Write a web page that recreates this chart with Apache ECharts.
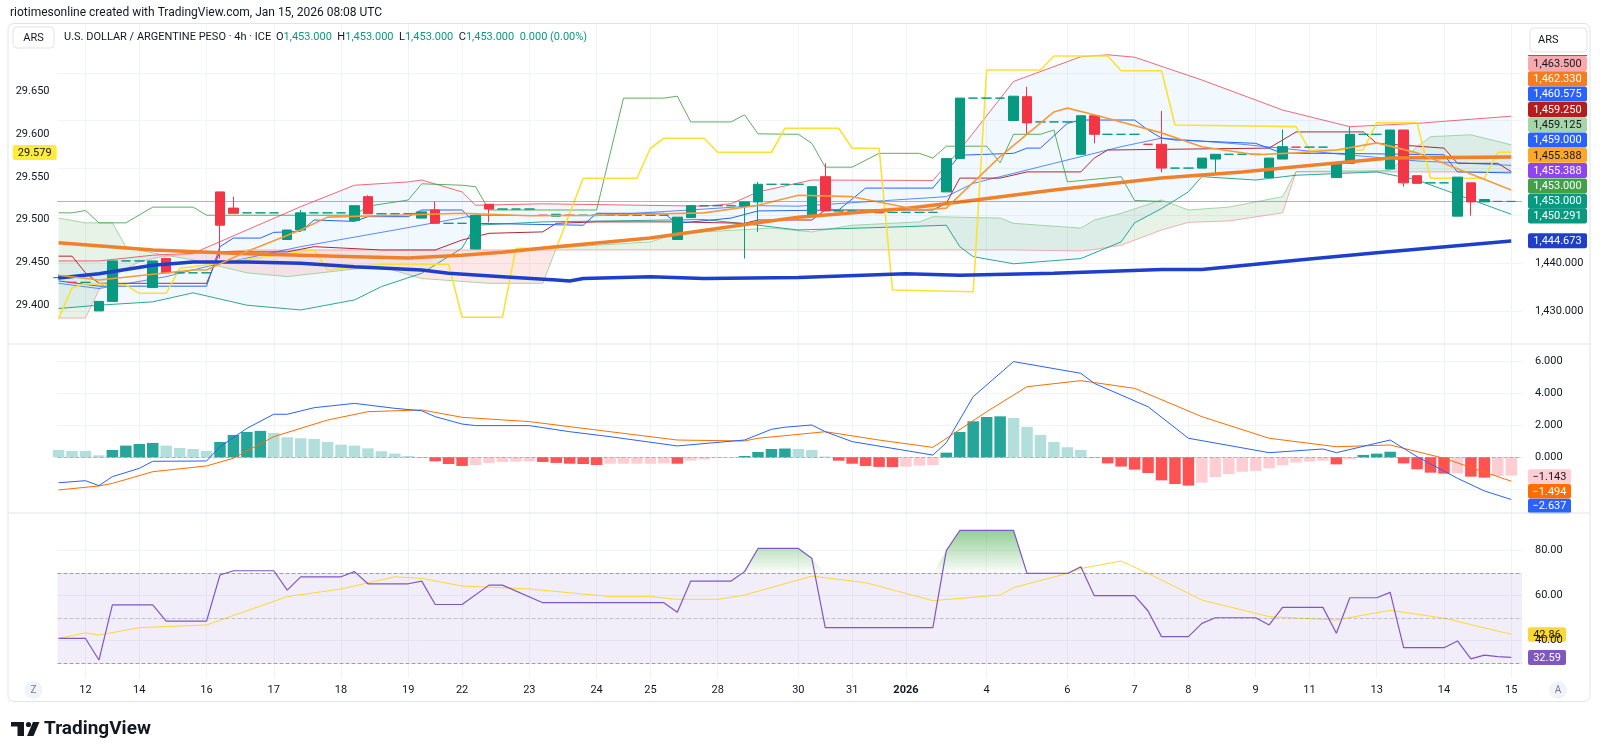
<!DOCTYPE html>
<html lang="en">
<head>
<meta charset="UTF-8">
<title>USD/ARS 4h</title>
<script src="https://cdn.jsdelivr.net/npm/echarts@6/dist/echarts.min.js"></script>
<style>
    html, body { margin: 0; padding: 0; background: #fff; }
    #main { width: 1600px; height: 756px; }
</style>
</head>
<body>
<div id="main"></div>
<script>
    var FONT = 'Roboto, "Liberation Sans", sans-serif';

    // time axis: bar index of each day label
    var xTickIdx = [2, 6, 11, 16, 21, 26, 30, 35, 40, 44, 49, 55, 59, 63, 69, 75, 80, 84, 89, 93, 98, 103, 108];
    var xTickLabels = ['12', '14', '16', '17', '18', '19', '22', '23', '24', '25', '28', '30', '31', '2026', '4', '6', '7', '8', '9', '11', '13', '14', '15'];

    // 4h candles, index 0..108
    var opens = [1437, 1436, 1436, 1430, 1432, 1440.5, 1440.5, 1434.9, 1441, 1438,
        1438, 1438, 1455, 1451.6, 1450.6, 1450.6, 1450.6, 1445, 1447, 1450.6,
        1450.6, 1450.6, 1449, 1454, 1450.4, 1450.4, 1450.4, 1449.5, 1451.2, 1448.4,
        1448.4, 1443, 1452.4, 1451.4, 1451.4, 1451.4, 1450.1, 1449.9, 1450.1, 1450.1,
        1450.1, 1450.1, 1450.1, 1450.1, 1450.1, 1450.1, 1445, 1449.6, 1452.1, 1452.1,
        1452.1, 1452, 1452.9, 1456.6, 1456.6, 1456.6, 1449.9, 1458.2, 1451, 1451,
        1451, 1451.2, 1450.7, 1450.7, 1450.7, 1450.7, 1455, 1462, 1474.7, 1474.7,
        1474.7, 1470, 1475, 1469.7, 1469.7, 1469.7, 1462.9, 1471, 1467.1, 1467.1,
        1467.1, 1465, 1465, 1460, 1460, 1460, 1461.9, 1462.9, 1462.9, 1462.9,
        1458, 1461.9, 1464.4, 1464.4, 1464.4, 1458, 1461, 1467.1, 1467.1, 1459.8,
        1468, 1458.4, 1456.9, 1456.9, 1449.9, 1456.9, 1452.9, 1453, 1453];
    var closes = [1437, 1436, 1436, 1432, 1440.5, 1440.5, 1440.5, 1440.5, 1438, 1438,
        1438, 1438, 1448, 1450.5, 1450.6, 1450.6, 1450.6, 1447, 1450.6, 1450.6,
        1450.6, 1450.6, 1452.1, 1450.4, 1450.4, 1450.4, 1450.4, 1450.8, 1448.4, 1448.4,
        1448.4, 1450.1, 1451.4, 1451.4, 1451.4, 1451.4, 1450.1, 1450.3, 1450.1, 1450.1,
        1450.1, 1450.1, 1450.1, 1450.1, 1450.1, 1450.1, 1449.7, 1452.1, 1452.1, 1452.1,
        1452.1, 1452.9, 1456.6, 1456.6, 1456.6, 1456.6, 1456.1, 1451, 1451, 1451,
        1451, 1450.6, 1450.7, 1450.7, 1450.7, 1450.7, 1462, 1474.7, 1474.7, 1474.7,
        1474.7, 1475.1, 1469.5, 1469.7, 1469.7, 1469.7, 1471, 1467.1, 1467.1, 1467.1,
        1467.1, 1465, 1460, 1460, 1460, 1462.1, 1462.9, 1462.9, 1462.9, 1462.9,
        1462.1, 1464.5, 1464.4, 1464.4, 1464.4, 1461.1, 1467.1, 1467.1, 1467.1, 1468,
        1456.9, 1456.8, 1456.9, 1456.9, 1458.1, 1452.9, 1453.4, 1453, 1453];
    var lows = [1436.6, 1436, 1436, 1430, 1432, 1440.5, 1440.5, 1434.9, 1438, 1438,
        1438, 1438, 1441, 1450.5, 1450.6, 1450.6, 1450.6, 1445, 1447, 1450.6,
        1450.6, 1450.6, 1449, 1450.4, 1450.4, 1450.4, 1450.4, 1449.5, 1448.4, 1448.4,
        1448.4, 1443, 1448.6, 1451.4, 1451.4, 1451.4, 1450.1, 1449.9, 1450.1, 1450.1,
        1450.1, 1450.1, 1450.1, 1450.1, 1450.1, 1450.1, 1445, 1449.6, 1452.1, 1452.1,
        1452.1, 1441, 1446.6, 1456.6, 1456.6, 1456.6, 1449.9, 1451, 1451, 1451,
        1451, 1450.6, 1450.7, 1450.7, 1450.7, 1450.7, 1455, 1462, 1474.7, 1474.7,
        1474.7, 1470, 1467.1, 1469.7, 1469.7, 1469.7, 1462.9, 1465.2, 1467.1, 1467.1,
        1467.1, 1465, 1459.1, 1460, 1460, 1460, 1458.8, 1462.9, 1462.9, 1462.9,
        1458, 1461.9, 1464.4, 1464.4, 1464.4, 1458, 1461, 1467.1, 1467.1, 1459.8,
        1456.1, 1456.8, 1456.9, 1456.9, 1449.9, 1450, 1452.9, 1453, 1453];
    var highs = [1437.6, 1436, 1436, 1432, 1440.5, 1440.5, 1440.5, 1440.5, 1441, 1438,
        1438, 1438, 1455, 1454, 1450.6, 1450.6, 1450.6, 1447, 1451.2, 1450.6,
        1450.6, 1450.6, 1452.1, 1454.3, 1450.4, 1450.4, 1450.4, 1450.8, 1453, 1448.4,
        1448.4, 1450.1, 1452.4, 1451.4, 1451.4, 1451.4, 1450.1, 1450.4, 1450.1, 1450.1,
        1450.1, 1450.1, 1450.1, 1450.1, 1450.1, 1450.1, 1449.7, 1452.1, 1452.1, 1452.1,
        1452.1, 1452.9, 1457.1, 1456.6, 1456.6, 1456.6, 1456.1, 1461, 1451, 1451,
        1451, 1451.2, 1450.7, 1450.7, 1450.7, 1450.7, 1462, 1474.7, 1474.7, 1474.7,
        1474.7, 1475.1, 1477.1, 1469.7, 1469.7, 1469.7, 1471, 1471, 1467.1, 1467.1,
        1467.1, 1465, 1472, 1460, 1460, 1462.1, 1462.9, 1462.9, 1462.9, 1462.9,
        1462.1, 1468.1, 1464.4, 1464.4, 1464.4, 1461.1, 1468.6, 1467.1, 1467.1, 1468,
        1468, 1458.4, 1456.9, 1456.9, 1458.1, 1456.9, 1453.4, 1453, 1453];

    // overlays, [bar index, value]
    var maSlow = [[0, 1436.9], [3, 1437.8], [7, 1439.6], [10, 1440.3], [14, 1440.3], [18, 1440], [22, 1439.3], [27, 1438.6], [29, 1437.9], [33, 1437.2], [37, 1436.5], [38, 1436.3], [39, 1436.8], [44, 1437.2], [48, 1436.8], [55, 1437], [63, 1437.8], [67, 1437.5], [74, 1437.9], [82, 1438.7], [85, 1438.7], [93, 1440.9], [98, 1442.2], [108, 1444.67]];
    var maMid = [[0, 1444.3], [7, 1442.8], [14, 1442], [22, 1441.4], [26, 1441.1], [30, 1441.7], [33, 1442.3], [37, 1443.5], [44, 1445.3], [52, 1448.5], [55, 1449.7], [63, 1451.5], [67, 1452.9], [74, 1455.4], [82, 1457.9], [88, 1459.2], [92, 1460.3], [99, 1462.1], [108, 1462.33]];
    var emaFast = [[0, 1437.5], [3, 1436.5], [10, 1438.6], [11, 1438.6], [14, 1442.5], [18, 1447], [20, 1449.7], [25, 1450.1], [30, 1450.5], [35, 1450], [40, 1450.1], [48, 1450.6], [52, 1452.2], [55, 1454.3], [59, 1454], [64, 1451.2], [66, 1451.6], [70, 1462.4], [74, 1471.8], [75, 1472.6], [77, 1471.2], [82, 1467.4], [85, 1464.5], [89, 1462.8], [92, 1463.2], [95, 1463.8], [98, 1465.3], [101, 1463.2], [108, 1455.39]];
    var bbUpper = [[0, 1440.5], [3, 1440.5], [7, 1441.7], [10, 1442.1], [14, 1447], [18, 1451.9], [22, 1456.4], [26, 1457.1], [27, 1457.5], [30, 1455], [31, 1452.2], [36, 1452.5], [48, 1452], [50, 1452.5], [52, 1455], [56, 1457.5], [65, 1457.4], [67, 1463.8], [71, 1478.2], [76, 1483.4], [78, 1483.8], [80, 1483.3], [85, 1478.5], [91, 1472.2], [96, 1468.7], [101, 1469.4], [108, 1470.9]];
    var bbLower = [[0, 1430.5], [3, 1431.2], [7, 1431.9], [10, 1433.8], [14, 1431.2], [18, 1430.2], [22, 1432.3], [24, 1435.1], [27, 1437.9], [30, 1443.2], [31, 1448], [36, 1448.7], [48, 1449.2], [52, 1448], [55, 1447], [63, 1447.7], [66, 1448], [67, 1443.5], [68, 1441.4], [71, 1439.9], [76, 1441], [79, 1444.5], [80, 1448.5], [82, 1451.5], [84, 1455], [85, 1458.2], [89, 1457.5], [92, 1458.5], [98, 1459.2], [101, 1457.5], [108, 1450.29]];
    var bbBasis = [[0, 1435.8], [3, 1434.7], [8, 1437.2], [11, 1439.3], [18, 1443.5], [25, 1447], [31, 1450.1], [40, 1450], [52, 1452.1], [55, 1452], [66, 1454], [68, 1456.8], [71, 1458.9], [74, 1461], [79, 1464.5], [82, 1466.3], [88, 1465], [95, 1463], [101, 1461.5], [108, 1460.575]];
    var tenkan = [[0, 1436.3], [3, 1435.2], [11, 1435.2], [12, 1443.5], [13, 1445.3], [15, 1445.3], [16, 1446.5], [18, 1446.7], [19, 1449.1], [22, 1448.8], [23, 1449.8], [26, 1449.8], [27, 1451.2], [30, 1451.2], [31, 1448.4], [39, 1448], [40, 1450.5], [45, 1450.5], [46, 1448.4], [50, 1449.5], [52, 1451], [58, 1451.2], [60, 1455.8], [65, 1455.8], [67, 1462.7], [71, 1463.1], [72, 1464.2], [73, 1464.2], [75, 1469.4], [76, 1470.1], [80, 1470.1], [81, 1468], [82, 1466.3], [83, 1465.9], [89, 1465.2], [91, 1463.1], [95, 1463.1], [103, 1462.8], [104, 1459.2], [108, 1459]];
    var kijun = [[0, 1441.5], [1, 1441.5], [2, 1438], [3, 1435.8], [11, 1435.8], [12, 1442.4], [17, 1442.4], [19, 1443.5], [24, 1442.8], [28, 1442.8], [30, 1444.9], [32, 1446.3], [36, 1446.6], [37, 1448.4], [40, 1448.7], [46, 1448.7], [51, 1448.4], [52, 1449.1], [56, 1449.1], [57, 1451.2], [65, 1451.2], [66, 1452.6], [67, 1457.9], [70, 1457.9], [72, 1459.2], [76, 1459.2], [77, 1462.1], [78, 1463.8], [90, 1464.2], [91, 1465.9], [92, 1467.6], [97, 1467.6], [98, 1465.2], [103, 1464.2], [104, 1461], [107, 1461], [108, 1459.25]];
    var lagging = [[0, 1450.6], [1, 1450.6], [2, 1451.1], [3, 1448.5], [5, 1448.5], [7, 1451.8], [10, 1451.8], [11, 1450.1], [22, 1450.1], [23, 1452], [26, 1453.3], [27, 1456.7], [30, 1456.4], [31, 1456.1], [32, 1451.2], [40, 1451.2], [42, 1474.7], [45, 1474.7], [46, 1475.1], [47, 1469.7], [50, 1469.7], [51, 1471.2], [52, 1467.2], [55, 1467.1], [56, 1465.2], [57, 1460.2], [59, 1460.2], [61, 1463.1], [64, 1463.1], [65, 1462.1], [66, 1464.6], [69, 1464.6], [70, 1461.1], [71, 1467.1], [73, 1467.1], [74, 1468], [75, 1457.1], [79, 1458.2], [80, 1453.2], [82, 1453]];
    var cloudIdx = [0, 2, 3, 4, 5, 6, 7, 8, 10, 14, 17, 22, 24, 27, 32, 36, 37, 40, 44, 46, 53, 56, 59, 64, 65, 70, 71, 76, 77, 79, 82, 84, 87, 91, 92, 99, 101, 102, 105, 108];
    var spanA = [1449.5, 1448.5, 1448.5, 1448.5, 1443.5, 1442.8, 1442.2, 1441.7, 1440.7, 1438, 1437.2, 1438.8, 1439.3, 1436.8, 1435.8, 1435.8, 1443.2, 1443.8, 1444.5, 1446.3, 1447.4, 1446.6, 1448, 1448.7, 1449.8, 1449.5, 1448.4, 1447.4, 1449.1, 1450.5, 1453.3, 1451.2, 1451.8, 1454, 1459.3, 1459.5, 1464.5, 1466.6, 1467, 1464.9];
    var spanB = [1428.5, 1428.5, 1434.4, 1437.2, 1438.8, 1440.3, 1441, 1441.5, 1442, 1442.8, 1442.8, 1442.8, 1442.8, 1442.8, 1442.8, 1442.8, 1442.8, 1442.8, 1442.8, 1442.8, 1442.8, 1442.8, 1442.8, 1442.8, 1442.8, 1442.8, 1442.8, 1442.6, 1442.9, 1443.8, 1447, 1448.6, 1448.9, 1450.6, 1459.2, 1459.2, 1459.2, 1459.2, 1459.2, 1459.2];
    // second symbol on the left scale
    var yellowLine = [[0, 29.384], [1, 29.42], [2, 29.425], [5, 29.4234], [6, 29.4137], [8, 29.4137], [9, 29.443], [10, 29.4449], [19, 29.4645], [20, 29.441], [24, 29.4477], [29, 29.4477], [30, 29.3856], [33, 29.3856], [34, 29.4665], [37, 29.4665], [39, 29.5485], [43, 29.5485], [44, 29.5837], [45, 29.5954], [48, 29.5954], [49, 29.579], [53, 29.579], [54, 29.6071], [58, 29.6071], [59, 29.5837], [61, 29.5837], [62, 29.4176], [68, 29.4156], [69, 29.6754], [73, 29.6754], [74, 29.6918], [78, 29.6918], [79, 29.6746], [82, 29.6746], [83, 29.611], [92, 29.609], [93, 29.5817], [97, 29.5817], [98, 29.6137], [101, 29.6137], [102, 29.5485], [106, 29.5485], [107, 29.579], [108, 29.579]];

    // MACD
    var macdHist = [0.46, 0.40, 0.40, 0.125, 0.46, 0.73, 0.83, 0.90, 0.73, 0.58,
        0.52, 0.40, 0.96, 1.40, 1.58, 1.65, 1.52, 1.25, 1.19, 1.15,
        0.96, 0.79, 0.73, 0.56, 0.38, 0.23, 0.08, -0.02, -0.25, -0.42,
        -0.54, -0.48, -0.35, -0.29, -0.27, -0.25, -0.29, -0.35, -0.40, -0.42,
        -0.48, -0.40, -0.40, -0.40, -0.40, -0.38, -0.40, -0.21, -0.13, -0.04,
        -0.02, 0.08, 0.33, 0.52, 0.55, 0.52, 0.46, 0.05, -0.21, -0.40,
        -0.54, -0.60, -0.61, -0.58, -0.52, -0.48, 0.29, 1.58, 2.25, 2.52,
        2.56, 2.46, 1.90, 1.40, 0.96, 0.63, 0.46, -0.02, -0.38, -0.58,
        -0.77, -0.98, -1.44, -1.67, -1.77, -1.58, -1.23, -1.04, -0.90, -0.85,
        -0.69, -0.50, -0.33, -0.27, -0.21, -0.44, -0.13, 0.15, 0.23, 0.35,
        -0.38, -0.75, -0.96, -1.02, -1.00, -1.21, -1.27, -1.17, -1.143];
    var macdLine = [[0, -1.59], [2, -1.46], [3, -1.77], [4, -1.21], [6, -0.69], [7, -0.25], [11, -0.23], [12, 0.66], [14, 1.81], [16, 2.69], [17, 2.69], [19, 3.1], [22, 3.37], [25, 3.06], [27, 2.91], [28, 2.54], [30, 2.08], [31, 1.98], [35, 1.98], [38, 1.6], [41, 1.29], [46, 0.71], [51, 1.08], [53, 1.75], [54, 1.88], [56, 2.02], [57, 1.6], [59, 0.98], [65, 0.14], [66, 0.91], [68, 3.79], [71, 5.98], [76, 5.25], [77, 4.62], [81, 3.16], [84, 1.19], [90, 0.29], [94, 0.52], [95, 0.29], [99, 1.08], [101, 0.04], [104, -1.31], [106, -2.1], [108, -2.637]];
    var macdSignal = [[0, -2.04], [3, -1.79], [4, -1.63], [7, -0.9], [11, -0.54], [13, -0.06], [16, 1.29], [20, 2.33], [23, 2.85], [27, 2.96], [30, 2.5], [35, 2.23], [41, 1.6], [46, 1.08], [51, 1.02], [52, 1.19], [54, 1.35], [57, 1.6], [61, 1.08], [65, 0.62], [69, 2.85], [72, 4.41], [76, 4.79], [80, 4.31], [85, 2.54], [90, 1.19], [95, 0.66], [99, 0.77], [103, -0.06], [108, -1.494]];

    // RSI
    var rsiLine = [[0, 41], [2, 41], [3, 31.4], [4, 55.9], [7, 55.9], [8, 48.7], [11, 48.7], [12, 69.2], [13, 71.1], [16, 71.1], [17, 62.5], [18, 68.4], [21, 68.4], [22, 70.7], [23, 65.3], [26, 65.3], [27, 66.5], [28, 56.1], [30, 56.1], [32, 64.7], [33, 64.7], [36, 56.9], [45, 56.9], [46, 52.6], [47, 66.5], [50, 66.5], [51, 70.7], [52, 81], [55, 81], [56, 76.6], [57, 45.8], [65, 45.8], [66, 80], [67, 89], [71, 89], [72, 69.9], [75, 69.9], [76, 72.9], [77, 60], [80, 60], [81, 53.2], [82, 41.8], [84, 41.8], [85, 47.7], [86, 50.2], [89, 50.2], [90, 47], [91, 54.8], [94, 54.8], [95, 43.3], [96, 59.1], [98, 59.1], [99, 61.5], [100, 36.9], [103, 36.9], [104, 39.9], [105, 31.9], [106, 33.6], [107, 32.9], [108, 32.59]];
    var rsiMa = [[0, 41], [2, 43.5], [3, 42.5], [6, 45.8], [11, 47], [17, 59.6], [21, 63], [25, 68.4], [27, 67.7], [30, 64.3], [35, 63], [41, 59.6], [44, 59.6], [46, 58.4], [49, 58.4], [51, 60.3], [56, 68.7], [60, 65.8], [65, 57.8], [70, 60.3], [71, 63.6], [75, 69.9], [76, 72.1], [79, 75.4], [81, 69.9], [85, 58.1], [90, 50.7], [95, 49.2], [99, 53.5], [103, 50], [108, 42.86]];

    var chartDom = document.getElementById('main');
    var myChart = echarts.init(chartDom);

    var candleData = opens.map(function (o, i) {
        return [i, o, closes[i], lows[i], highs[i]];
    });

    function histColor(i) {
        var v = macdHist[i];
        var p = i > 0 ? macdHist[i - 1] : v + 0.01;
        if (v >= 0) return v > p ? '#26a69a' : '#b2dfdb';
        return v < p ? '#ff5252' : '#ffcdd2';
    }

    function fmtX(v) {
        var k = xTickIdx.indexOf(Math.round(v));
        var t = xTickLabels[k] || '';
        return t === '2026' ? '{b|2026}' : t;
    }

    function xAx(g, showLabel) {
        return {
            type: 'value', gridIndex: g, min: -0.08, max: 108.8,
            axisLine: {show: false},
            axisTick: {show: false, customValues: xTickIdx},
            splitLine: {show: true, lineStyle: {color: '#f0f3fa', width: 1}},
            axisLabel: {
                show: showLabel, customValues: xTickIdx, margin: 7,
                color: '#131722', fontSize: 11, fontFamily: FONT, formatter: fmtX,
                rich: {b: {fontWeight: 'bold', fontSize: 11, color: '#131722', fontFamily: FONT}}
            }
        };
    }

    function yAx(g, pos, min, max, ticks, labels, fmt, showSplit) {
        return {
            type: 'value', gridIndex: g, position: pos, min: min, max: max,
            axisLine: {show: false},
            axisTick: {show: false, customValues: ticks},
            splitLine: {show: showSplit, lineStyle: {color: '#f0f3fa', width: 1}},
            axisLabel: {
                customValues: labels, formatter: fmt, margin: pos === 'right' ? 13 : 8,
                color: '#131722', fontSize: 11, fontFamily: FONT
            }
        };
    }

    function lineS(data, color, width, xi, yi, z) {
        return {
            type: 'line', data: data, xAxisIndex: xi, yAxisIndex: yi,
            showSymbol: false, symbol: 'none', silent: true, z: z || 2,
            lineStyle: {color: color, width: width}
        };
    }

    function fmtPrice(v) {
        return v.toLocaleString('en-US', {minimumFractionDigits: 3, maximumFractionDigits: 3});
    }

    // fill between two polylines (upper forward, lower backward)
    var bbFill = {
        type: 'custom', xAxisIndex: 0, yAxisIndex: 0, silent: true, clip: true, z: 1,
        data: [[0, bbUpper[0][1]]],
        renderItem: function (params, api) {
            var pts = bbUpper.map(function (p) { return api.coord(p); });
            var low = bbLower.slice().reverse().map(function (p) { return api.coord(p); });
            return {type: 'polygon', shape: {points: pts.concat(low)}, style: {fill: 'rgba(33,150,243,0.06)'}};
        }
    };

    var cloudFill = {
        type: 'custom', xAxisIndex: 0, yAxisIndex: 0, silent: true, clip: true, z: 1,
        data: [[0, spanA[0]]],
        renderItem: function (params, api) {
            function poly(pts, up) {
                return {
                    type: 'polygon',
                    shape: {points: pts.map(function (p) { return api.coord(p); })},
                    style: {fill: up ? 'rgba(67,160,71,0.13)' : 'rgba(244,67,54,0.12)'}
                };
            }
            var children = [];
            for (var k = 0; k < cloudIdx.length - 1; k++) {
                var x0 = cloudIdx[k], x1 = cloudIdx[k + 1];
                var a0 = spanA[k], a1 = spanA[k + 1], b0 = spanB[k], b1 = spanB[k + 1];
                var d0 = a0 - b0, d1 = a1 - b1;
                if (d0 * d1 >= 0) {
                    children.push(poly([[x0, a0], [x1, a1], [x1, b1], [x0, b0]], d0 + d1 >= 0));
                } else {
                    var t = d0 / (d0 - d1);
                    var xc = x0 + t * (x1 - x0), yc = a0 + t * (a1 - a0);
                    children.push(poly([[x0, a0], [xc, yc], [x0, b0]], d0 > 0));
                    children.push(poly([[xc, yc], [x1, a1], [x1, b1]], d1 > 0));
                }
            }
            return {type: 'group', children: children};
        }
    };

    var rsiHot = {
        type: 'custom', xAxisIndex: 2, yAxisIndex: 3, silent: true, clip: true, z: 1,
        data: [[0, 70]],
        renderItem: function (params, api) {
            var pts = rsiLine.map(function (p) { return api.coord([p[0], Math.max(p[1], 70)]); });
            pts.push(api.coord([108, 70]));
            pts.push(api.coord([0, 70]));
            return {
                type: 'polygon', shape: {points: pts},
                style: {
                    fill: new echarts.graphic.LinearGradient(0, 0, 0, 1, [
                        {offset: 0, color: 'rgba(76,175,80,0.6)'},
                        {offset: 1, color: 'rgba(76,175,80,0.02)'}
                    ])
                }
            };
        }
    };

    function zip(idx, vals) {
        return idx.map(function (x, k) { return [x, vals[k]]; });
    }

    // tags on the scales
    function tag(x, y, w, h, text, bg, fg) {
        return {
            type: 'group', x: x, y: y, z: 100,
            children: [
                {type: 'rect', shape: {x: 0, y: 0, width: w, height: h, r: 2}, style: {fill: bg}},
                {type: 'text', x: w / 2, y: h / 2 + 0.5, style: {text: text, fill: fg, font: '11px ' + FONT, align: 'center', verticalAlign: 'middle'}}
            ]
        };
    }

    var priceTags = [
        [56, '1,463.500', '#f7a9ad', '#131722'], [71.3, '1,462.330', '#f57c1f', '#fff'],
        [86.6, '1,460.575', '#2962ff', '#fff'], [101.9, '1,459.250', '#b71c1c', '#fff'],
        [117.2, '1,459.125', '#a5d6a7', '#131722'], [132.5, '1,459.000', '#2962ff', '#fff'],
        [147.8, '1,455.388', '#ffa726', '#131722'], [163.1, '1,455.388', '#8e44f0', '#fff'],
        [178.4, '1,453.000', '#43a047', '#fff'], [193.7, '1,453.000', '#089981', '#fff'],
        [208.5, '1,450.291', '#089981', '#fff'], [233.3, '1,444.673', '#1e40c8', '#fff']
    ];
    var graphics = [
        {type: 'rect', shape: {x: 8, y: 23.5, width: 1582, height: 678, r: 6}, style: {fill: 'none', stroke: '#e0e3eb', lineWidth: 1}, z: 90},
        {type: 'line', shape: {x1: 8, y1: 344, x2: 1590, y2: 344}, style: {stroke: '#e0e3eb', lineWidth: 1}, z: 90},
        {type: 'line', shape: {x1: 8, y1: 513, x2: 1590, y2: 513}, style: {stroke: '#e0e3eb', lineWidth: 1}, z: 90},
        {type: 'text', x: 10, y: 13, style: {text: 'riotimesonline created with TradingView.com, Jan 15, 2026 08:08 UTC', font: '12px ' + FONT, fill: '#131722', verticalAlign: 'middle'}},
        {type: 'rect', shape: {x: 13, y: 27, width: 41, height: 21, r: 4}, style: {fill: '#fff', stroke: '#e0e3eb'}, z: 100},
        {type: 'text', x: 33.5, y: 38, style: {text: 'ARS', font: '11px ' + FONT, fill: '#131722', align: 'center', verticalAlign: 'middle'}, z: 100},
        {type: 'text', x: 64, y: 37.5, style: {text: 'U.S. DOLLAR / ARGENTINE PESO · 4h · ICE', font: '11px ' + FONT, fill: '#131722', verticalAlign: 'middle'}, z: 100},
        {
            type: 'text', x: 276, y: 37.5, z: 100,
            style: {
                text: '{k|O}{v|1,453.000}  {k|H}{v|1,453.000}  {k|L}{v|1,453.000}  {k|C}{v|1,453.000}  {v|0.000 (0.00%)}',
                font: '11px ' + FONT, verticalAlign: 'middle',
                rich: {k: {fill: '#131722', font: '11px ' + FONT}, v: {fill: '#089981', font: '11px ' + FONT}}
            }
        },
        {type: 'rect', shape: {x: 1530, y: 28, width: 57, height: 24, r: 4}, style: {fill: '#fff', stroke: '#e0e3eb'}, z: 100},
        {type: 'text', x: 1538, y: 40, style: {text: 'ARS', font: '11px ' + FONT, fill: '#131722', verticalAlign: 'middle'}, z: 100},
        {type: 'line', shape: {x1: 1528, y1: 55.5, x2: 1587, y2: 55.5}, style: {stroke: '#f23645', lineWidth: 1}, z: 101},
        tag(1528, 469.3, 43, 14.5, '−1.143', '#ffcdd2', '#131722'),
        tag(1528, 484, 43, 14.5, '−1.494', '#ff6d00', '#fff'),
        tag(1528, 498.7, 43, 14.5, '−2.637', '#2962ff', '#fff'),
        tag(1528, 627.3, 38, 14.5, '42.86', '#fdd835', '#131722'),
        tag(1528, 650, 38, 15, '32.59', '#7e57c2', '#fff'),
        tag(12.7, 145, 44, 15, '29.579', '#ffeb3b', '#131722'),
        {type: 'circle', shape: {cx: 33.5, cy: 690, r: 9}, style: {fill: '#f0f3fa'}, z: 100},
        {type: 'text', x: 33.5, y: 690.5, style: {text: 'Z', font: '10px ' + FONT, fill: '#787b86', align: 'center', verticalAlign: 'middle'}, z: 101},
        {type: 'circle', shape: {cx: 1558, cy: 690, r: 9}, style: {fill: '#f0f3fa'}, z: 100},
        {type: 'text', x: 1558, y: 690.5, style: {text: 'A', font: '10px ' + FONT, fill: '#787b86', align: 'center', verticalAlign: 'middle'}, z: 101},
        // TradingView logo
        {type: 'rect', shape: {x: 11, y: 722, width: 13, height: 4.5}, style: {fill: '#131722'}},
        {type: 'rect', shape: {x: 17.5, y: 722, width: 6.5, height: 14}, style: {fill: '#131722'}},
        {type: 'circle', shape: {cx: 28.5, cy: 724.5, r: 2.6}, style: {fill: '#131722'}},
        {type: 'polygon', shape: {points: [[33, 722], [39.5, 722], [33.5, 736], [27, 736]]}, style: {fill: '#131722'}},
        {type: 'text', x: 44, y: 729.5, style: {text: 'TradingView', font: 'bold 19px ' + FONT, fill: '#131722', verticalAlign: 'middle'}}
    ];
    priceTags.forEach(function (t) {
        graphics.push(tag(1528, t[0], 59, 15, t[1], t[2], t[3]));
    });

    var option = {
        animation: false,
        backgroundColor: '#ffffff',
        grid: [
            {left: 57.5, right: 78, top: 24, height: 320},
            {left: 57.5, right: 78, top: 344, height: 169},
            {left: 57.5, right: 78, top: 513, height: 165}
        ],
        xAxis: [xAx(0, false), xAx(1, false), xAx(2, true)],
        yAxis: [
            yAx(0, 'right', 1423.05, 1490.27, [1430, 1440, 1450, 1460, 1470, 1480], [1430, 1440], fmtPrice, true),
            yAx(0, 'left', 29.3543, 29.7293, [29.4, 29.45, 29.5, 29.55, 29.6, 29.65], [29.4, 29.45, 29.5, 29.55, 29.6, 29.65], function (v) { return v.toFixed(3); }, false),
            yAx(1, 'right', -3.48, 7.08, [-2, 0, 2, 4, 6], [0, 2, 4, 6], function (v) { return v.toFixed(3); }, true),
            yAx(2, 'right', 23.42, 96.76, [40, 60, 80], [40, 60, 80], function (v) { return v.toFixed(2); }, true)
        ],
        series: [
            bbFill,
            cloudFill,
            lineS(zip(cloudIdx, spanA), 'rgba(129,199,132,0.7)', 1, 0, 0),
            lineS(zip(cloudIdx, spanB), 'rgba(242,128,134,0.6)', 1, 0, 0),
            lineS(bbUpper, 'rgba(242,54,69,0.75)', 1, 0, 0),
            lineS(bbLower, 'rgba(8,153,129,0.85)', 1, 0, 0),
            lineS(bbBasis, 'rgba(41,98,255,0.75)', 1, 0, 0),
            lineS(kijun, '#b22833', 1, 0, 0),
            lineS(tenkan, '#2962ff', 1, 0, 0),
            lineS(lagging, 'rgba(67,160,71,0.85)', 1, 0, 0),
            lineS(yellowLine, '#fbe232', 1.6, 0, 1),
            {
                type: 'candlestick', xAxisIndex: 0, yAxisIndex: 0, z: 3,
                data: candleData, encode: {x: 0, y: [1, 2, 3, 4]}, barWidth: 10,
                itemStyle: {color: '#089981', color0: '#f23645', borderColor: '#089981', borderColor0: '#f23645', borderWidth: 1},
                markLine: {
                    silent: true, symbol: ['none', 'none'], label: {show: false},
                    lineStyle: {color: '#089981', type: 'dotted', width: 1},
                    data: [{yAxis: 1453}]
                }
            },
            lineS(maSlow, '#1c3fcc', 3.5, 0, 0, 4),
            lineS(maMid, '#f0802a', 3.5, 0, 0, 4),
            lineS(emaFast, '#f59b3a', 1.6, 0, 0, 4),

            {
                type: 'bar', xAxisIndex: 1, yAxisIndex: 2, barWidth: 11.5, silent: true,
                data: macdHist.map(function (v, i) {
                    return {value: [i, v], itemStyle: {color: histColor(i)}};
                }),
                markLine: {
                    silent: true, symbol: ['none', 'none'], label: {show: false},
                    lineStyle: {color: 'rgba(120,123,134,0.5)', type: 'dashed', width: 1},
                    data: [{yAxis: 0}]
                }
            },
            lineS(macdSignal, '#ff6d00', 1, 1, 2, 3),
            lineS(macdLine, '#2962ff', 1, 1, 2, 3),

            rsiHot,
            lineS(rsiMa, '#fdd835', 1, 2, 3, 3),
            {
                type: 'line', xAxisIndex: 2, yAxisIndex: 3, data: rsiLine, z: 4,
                showSymbol: false, symbol: 'none', silent: true,
                lineStyle: {color: '#7e57c2', width: 1.2},
                markArea: {
                    silent: true, itemStyle: {color: 'rgba(126,87,194,0.1)'},
                    data: [[{yAxis: 30}, {yAxis: 70}]]
                },
                markLine: {
                    silent: true, symbol: ['none', 'none'], label: {show: false},
                    lineStyle: {color: 'rgba(120,123,134,0.7)', type: 'dashed', width: 1},
                    data: [{yAxis: 70}, {yAxis: 50, lineStyle: {color: 'rgba(120,123,134,0.4)'}}, {yAxis: 30}]
                }
            }
        ],
        graphic: graphics
    };

    myChart.setOption(option);
</script>
</body>
</html>
